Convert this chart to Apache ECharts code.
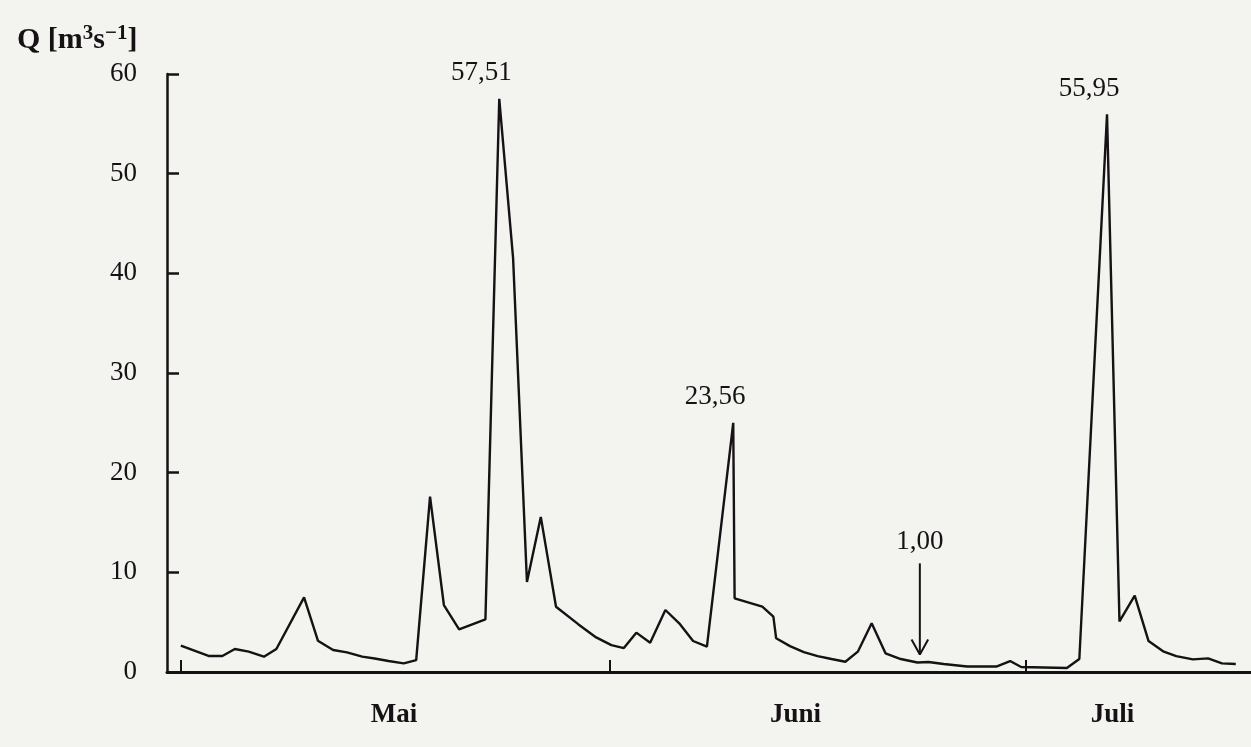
<!DOCTYPE html>
<html>
<head>
<meta charset="utf-8">
<script src="https://cdn.jsdelivr.net/npm/echarts@6/dist/echarts.min.js"></script>
<style>
html,body{margin:0;padding:0;background:#f3f4ef;}
#chart{width:1251px;height:747px;}
</style>
</head>
<body>
<div id="chart"></div>
<script>
// Day offsets (0 = 30 April, 1 = 1 May, 32 = 1 June, 62 = 1 July)
const days = [1.0, 3.0, 4.0, 4.9, 5.9, 7.0, 7.9, 9.9, 10.9, 12.0, 13.0, 14.1, 15.0, 16.0, 17.1, 18.0,
  19.0, 20.0, 21.1, 23.0, 24.0, 25.0, 26.0, 27.0, 28.1, 29.7, 31.0, 32.1, 33.0, 33.9, 34.9, 36.0,
  37.0, 38.0, 39.0, 40.9, 41.0, 43.0, 43.8, 44.0, 45.0, 46.0, 47.0, 48.0, 49.0, 49.9, 50.9, 51.9,
  53.0, 54.2, 55.0, 56.1, 57.8, 59.9, 60.9, 61.7, 65.0, 65.9, 67.9, 68.8, 69.9, 70.9, 72.0, 72.9,
  74.1, 75.2, 76.2, 77.2];
// Discharge Q [m3/s]
const discharge = [2.64, 1.61, 1.61, 2.31, 2.04, 1.54, 2.31, 7.49, 3.14, 2.21, 1.97, 1.54, 1.35, 1.1, 0.87, 1.2,
  17.59, 6.72, 4.28, 5.28, 57.51, 41.5, 9.03, 15.56, 6.54, 4.8, 3.47, 2.7, 2.4, 3.95, 2.94, 6.22,
  4.89, 3.11, 2.54, 25.0, 7.39, 6.55, 5.55, 3.38, 2.6, 2.0, 1.6, 1.3, 1.03, 2.04, 4.89, 1.88,
  1.3, 0.95, 1.0, 0.8, 0.55, 0.55, 1.1, 0.5, 0.4, 1.3, 55.95, 5.08, 7.67, 3.1, 2.04, 1.6,
  1.27, 1.37, 0.87, 0.8];
const monthNames = ['Mai', 'Juni', 'Juli'];
const monthStartDays = [1, 32, 62];
const monthLabelDays = [16.4, 45.4, 68.3];
const yMin = 0, yMax = 60, yStep = 10;
const peakLabelDays = [24.0, 40.9, 67.9];
const peakLabelTexts = ['57,51', '23,56', '55,95'];
const arrowDay = 54.38;
const arrowTop = 10.9;
const arrowTip = 1.75;
const arrowText = '1,00';

const FONT = '"Liberation Serif", "DejaVu Serif", serif';
const INK = '#161114';

const chart = echarts.init(document.getElementById('chart'), null, {renderer: 'canvas'});
const option = {
  animation: false,
  backgroundColor: '#f3f4ef',
  title: {
    left: 12, top: 18,
    text: '{a|Q [m}{s|3}{a|s}{s|\u22121}{a|]}',
    textStyle: {
      rich: {
        a: {fontFamily: FONT, fontWeight: 'bold', fontSize: 30, color: INK, verticalAlign: 'bottom', lineHeight: 32},
        s: {fontFamily: FONT, fontWeight: 'bold', fontSize: 21, color: INK, verticalAlign: 'top', lineHeight: 22}
      }
    }
  },
  grid: {left: 167, right: 0, top: 74, bottom: 75},
  xAxis: {
    type: 'value', min: 0, max: 78.3,
    axisLine: {show: true, onZero: false, lineStyle: {color: INK, width: 3}},
    axisTick: {show: true, inside: true, length: 12, customValues: monthStartDays, lineStyle: {color: INK, width: 2}},
    axisLabel: {
      show: true, customValues: monthLabelDays, margin: 30,
      fontFamily: FONT, fontWeight: 'bold', fontSize: 27, color: INK,
      formatter: function (v) {
        let best = 0;
        monthLabelDays.forEach(function (d, i) { if (Math.abs(d - v) < Math.abs(monthLabelDays[best] - v)) best = i; });
        return monthNames[best];
      }
    },
    splitLine: {show: false}
  },
  yAxis: {
    type: 'value', min: yMin, max: yMax, interval: yStep,
    axisLine: {show: true, lineStyle: {color: INK, width: 2.5}},
    axisTick: {show: true, inside: true, length: 12, lineStyle: {color: INK, width: 2.5}},
    axisLabel: {margin: 30, fontFamily: FONT, fontSize: 27, color: INK},
    splitLine: {show: false}
  },
  series: [
    {
      type: 'line',
      data: days.map(function (d, i) { return [d, discharge[i]]; }),
      showSymbol: false, symbol: 'none',
      lineStyle: {color: INK, width: 2.4},
      clip: false, z: 3
    },
    {
      type: 'scatter',
      data: peakLabelDays.map(function (d) { return [d, discharge[days.indexOf(d)]]; }),
      symbolSize: 0,
      itemStyle: {color: INK, opacity: 1},
      label: {
        show: true, position: 'top', distance: 12, offset: [-18, 0],
        fontFamily: FONT, fontSize: 27, color: INK, opacity: 1,
        formatter: function (p) { return peakLabelTexts[p.dataIndex]; }
      },
      z: 4
    },
    {
      type: 'line',
      data: [[arrowDay, arrowTop], [arrowDay, arrowTip]],
      showSymbol: false, symbol: 'none',
      lineStyle: {color: INK, width: 2},
      z: 4
    },
    {
      type: 'line',
      data: [[arrowDay - 0.6, arrowTip + 1.5], [arrowDay, arrowTip], [arrowDay + 0.6, arrowTip + 1.5]],
      showSymbol: false, symbol: 'none',
      lineStyle: {color: INK, width: 2},
      z: 4
    },
    {
      type: 'scatter',
      data: [[arrowDay, arrowTop]],
      symbolSize: 0,
      itemStyle: {color: INK, opacity: 1},
      label: {
        show: true, position: 'top', distance: 8,
        fontFamily: FONT, fontSize: 27, color: INK, opacity: 1,
        formatter: function () { return arrowText; }
      },
      z: 4
    }
  ]
};
chart.setOption(option);
</script>
</body>
</html>
